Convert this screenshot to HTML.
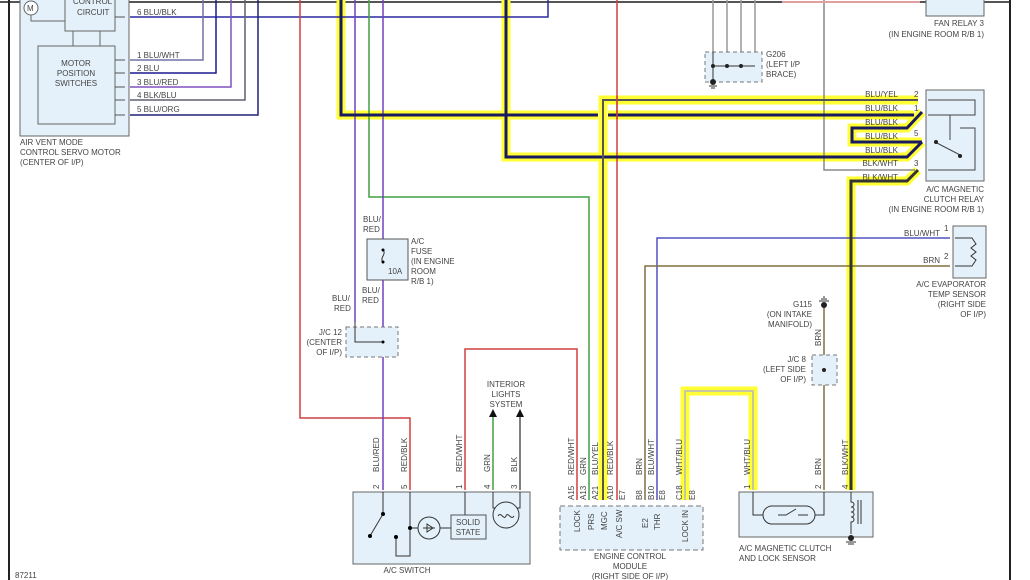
<!DOCTYPE html>
<html><head><meta charset="utf-8"><style>
html,body{margin:0;padding:0;background:#fff;}
svg{display:block;font-family:"Liberation Sans",sans-serif;}
text{font-size:8px;fill:#444;}
</style></head><body>
<svg width="1030" height="580" viewBox="0 0 1030 580" xmlns="http://www.w3.org/2000/svg">
<rect x="0" y="0" width="1030" height="580" fill="#fff"/>
<line x1="0" y1="2" x2="1010" y2="2" stroke="#555" stroke-width="2"/>
<line x1="9" y1="0" x2="9" y2="580" stroke="#222" stroke-width="2"/>
<line x1="1010" y1="0" x2="1010" y2="580" stroke="#222" stroke-width="2"/>

<g fill="none" stroke="#ffff33" stroke-width="9" stroke-linejoin="miter">
<polyline points="341,0 341,115 598,115"/>
<polyline points="608,115 914,115"/>
<polyline points="506,0 506,157 907,157 922,142"/>
<polyline points="922,112 907,128 852,128 852,142 922,142"/>
<polyline points="918,100 603,100 603,500"/>
<polyline points="918,170 907,181 851,181 851,490"/>
<polyline points="685,500 685,391 753,391 753,490"/>
</g>

<rect x="20" y="-2" width="109" height="138" fill="#e4f1fa" stroke="#666"/>
<rect x="65" y="-2" width="50" height="33" fill="#e4f1fa" stroke="#666"/>
<rect x="38" y="46" width="77" height="78" fill="#e4f1fa" stroke="#666"/>
<line x1="73" y1="31" x2="73" y2="46" stroke="#666"/><line x1="100" y1="31" x2="100" y2="46" stroke="#666"/>
<circle cx="31" cy="8" r="7" fill="#fff" stroke="#666"/><text x="27" y="11">M</text>
<polyline points="31,15 31,21 65,21" fill="none" stroke="#666"/>
<text x="73" y="4">CONTROL</text>
<text x="77" y="15">CIRCUIT</text>
<text x="76" y="66" text-anchor="middle">MOTOR</text><text x="76" y="76" text-anchor="middle">POSITION</text><text x="76" y="86" text-anchor="middle">SWITCHES</text>
<text x="20" y="145">AIR VENT MODE</text><text x="20" y="155">CONTROL SERVO MOTOR</text><text x="20" y="165">(CENTER OF I/P)</text>
<g fill="none" stroke-width="1.5">
<polyline points="130,17 548,17 548,0" stroke="#2a2aa0"/>
<polyline points="130,60 203,60 203,0" stroke="#7070a8"/>
<polyline points="130,73 216,73 216,0" stroke="#1a1a90"/>
<polyline points="130,87 231,87 231,0" stroke="#8050c0"/>
<polyline points="130,100 245,100 245,0" stroke="#606070"/>
<polyline points="130,115 258,115 258,0" stroke="#202078"/>
</g>
<g fill="none" stroke="#555"><path d="M115,17h10M115,60h10M115,73h10M115,87h10M115,100h10M115,115h10"/></g>
<text x="137" y="15">6  BLU/BLK</text>
<text x="137" y="58">1  BLU/WHT</text><text x="137" y="71">2  BLU</text><text x="137" y="85">3  BLU/RED</text><text x="137" y="98">4  BLK/BLU</text><text x="137" y="112">5  BLU/ORG</text>

<g fill="none" stroke-width="1.5">
<polyline points="300,0 300,418 410,418 410,490" stroke="#d04040"/>
<polyline points="355,0 355,322" stroke="#7040c0"/>
<polyline points="369,0 369,197 589,197 589,500" stroke="#40a040"/>
<polyline points="383,0 383,490" stroke="#7040c0"/>
<polyline points="465,490 465,349 577,349 577,500" stroke="#d04040"/>
<polyline points="617,0 617,500" stroke="#d04040"/>
<polyline points="824,0 824,170 915,170" stroke="#888"/>
<polyline points="657,500 657,238 950,238" stroke="#5050c0"/>
<polyline points="645,500 645,266 950,266" stroke="#807040"/>
<polyline points="824,305 824,490" stroke="#807040"/>
<polyline points="493,490 493,412" stroke="#40a040"/>
<polyline points="520,490 520,412" stroke="#555"/>
<line x1="782" y1="2" x2="920" y2="2" stroke="#e0a0a0" stroke-width="2"/>
</g>
<g fill="none" stroke-width="3">
<polyline points="341,0 341,115 598,115" stroke="#1a1a60"/>
<polyline points="608,115 914,115" stroke="#1a1a60"/>
<polyline points="506,0 506,157 907,157 922,142" stroke="#1a1a60"/>
<polyline points="922,112 907,128 852,128 852,142 922,142" stroke="#1a1a60"/>
<polyline points="918,100 603,100 603,500" stroke="#555" stroke-width="2"/>
<polyline points="918,170 907,181 851,181 851,490" stroke="#333"/>
<polyline points="685,500 685,391 753,391 753,490" stroke="#c8c8a0" stroke-width="2"/>
</g>
<line x1="617" y1="96" x2="617" y2="119" stroke="#d04040" stroke-width="1.5"/>

<g stroke="#999" fill="none" stroke-width="1.5"><path d="M713,0V66M727,0V66M741,0V66M755,0V66"/></g>
<rect x="705" y="52" width="57" height="30" fill="#e4f1fa" stroke="#777" stroke-dasharray="4,3"/>
<path d="M713,66H755M713,52V82" stroke="#333" fill="none"/>
<circle cx="713" cy="66" r="2" fill="#222"/><circle cx="727" cy="66" r="2" fill="#222"/><circle cx="741" cy="66" r="2" fill="#222"/>
<circle cx="713" cy="82" r="3" fill="#222"/><path d="M709,86h8M711,88h4" stroke="#333"/>
<text x="766" y="57">G206</text><text x="766" y="67">(LEFT I/P</text><text x="766" y="77">BRACE)</text>

<rect x="926" y="-2" width="58" height="18" fill="#e4f1fa" stroke="#666"/>
<text x="984" y="26" text-anchor="end">FAN RELAY 3</text><text x="984" y="37" text-anchor="end">(IN ENGINE ROOM R/B 1)</text>

<rect x="926" y="90" width="58" height="91" fill="#e4f1fa" stroke="#666"/>
<g fill="none" stroke="#444"><path d="M928,100H975V115H928M928,170H975V128H960M950,115V140"/><path d="M935,142L962,156"/></g>
<circle cx="936" cy="142" r="2" fill="#222"/><circle cx="960" cy="156" r="2" fill="#222"/>
<text x="898" y="97" text-anchor="end">BLU/YEL</text><text x="898" y="111" text-anchor="end">BLU/BLK</text><text x="898" y="125" text-anchor="end">BLU/BLK</text><text x="898" y="139" text-anchor="end">BLU/BLK</text><text x="898" y="153" text-anchor="end">BLU/BLK</text><text x="898" y="166" text-anchor="end">BLK/WHT</text><text x="898" y="180" text-anchor="end">BLK/WHT</text>
<text x="914" y="97">2</text><text x="914" y="111">1</text><text x="914" y="136">5</text><text x="914" y="166">3</text>
<text x="984" y="192" text-anchor="end">A/C MAGNETIC</text><text x="984" y="202" text-anchor="end">CLUTCH RELAY</text><text x="984" y="212" text-anchor="end">(IN ENGINE ROOM R/B 1)</text>

<text x="363" y="222">BLU/</text><text x="363" y="232">RED</text>
<rect x="367" y="239" width="41" height="41" fill="#e4f1fa" stroke="#555"/>
<path d="M383,250c4,4 -4,8 0,12" fill="none" stroke="#333"/><circle cx="383" cy="250" r="1.5"/><circle cx="383" cy="262" r="1.5"/>
<text x="388" y="274">10A</text>
<text x="411" y="244">A/C</text><text x="411" y="254">FUSE</text><text x="411" y="264">(IN ENGINE</text><text x="411" y="274">ROOM</text><text x="411" y="284">R/B 1)</text>
<text x="362" y="293">BLU/</text><text x="362" y="303">RED</text>
<text x="332" y="301">BLU/</text><text x="334" y="311">RED</text>
<rect x="346" y="327" width="52" height="30" fill="#e4f1fa" stroke="#777" stroke-dasharray="4,3"/>
<path d="M355,322V342H383" fill="none" stroke="#333"/><circle cx="383" cy="342" r="1.5"/>
<text x="342" y="335" text-anchor="end">J/C 12</text><text x="342" y="345" text-anchor="end">(CENTER</text><text x="342" y="355" text-anchor="end">OF I/P)</text>

<text x="506" y="387" text-anchor="middle">INTERIOR</text><text x="506" y="397" text-anchor="middle">LIGHTS</text><text x="506" y="407" text-anchor="middle">SYSTEM</text>
<path d="M489,417l4,-8l4,8z" fill="#111"/><path d="M516,417l4,-8l4,8z" fill="#111"/>

<text transform="translate(379,472) rotate(-90)">BLU/RED</text>
<text transform="translate(407,472) rotate(-90)">RED/BLK</text>
<text transform="translate(462,472) rotate(-90)">RED/WHT</text>
<text transform="translate(490,472) rotate(-90)">GRN</text>
<text transform="translate(517,472) rotate(-90)">BLK</text>
<text transform="translate(379,489) rotate(-90)">2</text><text transform="translate(407,489) rotate(-90)">5</text><text transform="translate(462,489) rotate(-90)">1</text><text transform="translate(490,489) rotate(-90)">4</text><text transform="translate(517,489) rotate(-90)">3</text>
<rect x="353" y="492" width="177" height="72" fill="#e4f1fa" stroke="#666"/>
<g fill="none" stroke="#333">
<path d="M383,492V514L370,536M410,492V556H396V537M410,528H458M465,492V515M493,492V508H520V492"/>
<circle cx="429" cy="528" r="11" fill="#e4f1fa"/><circle cx="506" cy="515" r="13" fill="#e4f1fa"/>
<path d="M423,528h12M427,524v8l6,-4z"/>
<path d="M498,516c3,-5 6,5 8,0c2,-5 5,5 8,0"/>
</g>
<rect x="451" y="515" width="35" height="24" fill="#e4f1fa" stroke="#555"/>
<circle cx="383" cy="514" r="2"/><circle cx="370" cy="536" r="2"/><circle cx="396" cy="537" r="2"/><circle cx="410" cy="528" r="2"/>
<text x="468" y="525" text-anchor="middle">SOLID</text><text x="468" y="535" text-anchor="middle">STATE</text>
<text x="407" y="573" text-anchor="middle">A/C SWITCH</text>

<rect x="560" y="506" width="143" height="44" fill="#e4f1fa" stroke="#777" stroke-dasharray="5,3"/>
<text transform="translate(574,475) rotate(-90)">RED/WHT</text>
<text transform="translate(586,475) rotate(-90)">GRN</text>
<text transform="translate(598,475) rotate(-90)">BLU/YEL</text>
<text transform="translate(613,475) rotate(-90)">RED/BLK</text>
<text transform="translate(642,475) rotate(-90)">BRN</text>
<text transform="translate(654,475) rotate(-90)">BLU/WHT</text>
<text transform="translate(682,475) rotate(-90)">WHT/BLU</text>
<text transform="translate(574,500) rotate(-90)">A15</text><text transform="translate(586,500) rotate(-90)">A13</text><text transform="translate(598,500) rotate(-90)">A21</text><text transform="translate(613,500) rotate(-90)">A10</text><text transform="translate(625,500) rotate(-90)">E7</text><text transform="translate(642,500) rotate(-90)">B8</text><text transform="translate(654,500) rotate(-90)">B10</text><text transform="translate(665,500) rotate(-90)">E8</text><text transform="translate(682,500) rotate(-90)">C18</text><text transform="translate(695,500) rotate(-90)">E8</text>
<text transform="translate(580,532) rotate(-90)">LOCK</text><text transform="translate(594,530) rotate(-90)">PRS</text><text transform="translate(607,530) rotate(-90)">MGC</text><text transform="translate(622,538) rotate(-90)">A/C SW</text><text transform="translate(648,528) rotate(-90)">E2</text><text transform="translate(660,530) rotate(-90)">THR</text><text transform="translate(688,542) rotate(-90)">LOCK IN</text>
<text x="630" y="559" text-anchor="middle">ENGINE CONTROL</text><text x="630" y="569" text-anchor="middle">MODULE</text><text x="630" y="579" text-anchor="middle">(RIGHT SIDE OF I/P)</text>

<rect x="953" y="226" width="33" height="52" fill="#e4f1fa" stroke="#666"/>
<path d="M955,238H972l4,6l-5,4l5,4l-5,4l5,4l-4,6H955" fill="none" stroke="#333"/>
<text x="940" y="236" text-anchor="end">BLU/WHT</text><text x="944" y="231">1</text>
<text x="940" y="263" text-anchor="end">BRN</text><text x="944" y="259">2</text>
<text x="986" y="287" text-anchor="end">A/C EVAPORATOR</text><text x="986" y="297" text-anchor="end">TEMP SENSOR</text><text x="986" y="307" text-anchor="end">(RIGHT SIDE</text><text x="986" y="317" text-anchor="end">OF I/P)</text>

<circle cx="824" cy="305" r="3" fill="#222"/><path d="M819,301h10M821,299h6M823,297h2" stroke="#333"/>
<text x="812" y="307" text-anchor="end">G115</text><text x="812" y="317" text-anchor="end">(ON INTAKE</text><text x="812" y="327" text-anchor="end">MANIFOLD)</text>
<text transform="translate(821,346) rotate(-90)">BRN</text>
<rect x="812" y="355" width="25" height="30" fill="#e4f1fa" stroke="#777" stroke-dasharray="4,3"/>
<circle cx="824" cy="370" r="2" fill="#222"/>
<text x="806" y="362" text-anchor="end">J/C 8</text><text x="806" y="372" text-anchor="end">(LEFT SIDE</text><text x="806" y="382" text-anchor="end">OF I/P)</text>

<text transform="translate(750,475) rotate(-90)">WHT/BLU</text><text transform="translate(821,475) rotate(-90)">BRN</text><text transform="translate(848,475) rotate(-90)">BLK/WHT</text>
<text transform="translate(750,489) rotate(-90)">1</text><text transform="translate(821,489) rotate(-90)">2</text><text transform="translate(848,489) rotate(-90)">4</text>
<rect x="739" y="492" width="134" height="45" fill="#e4f1fa" stroke="#666"/>
<g fill="none" stroke="#333">
<path d="M753,492V515H763M815,515H824V492"/>
<rect x="763" y="506" width="52" height="18" rx="9"/>
<path d="M778,515h8l10,-6M798,515h10"/>
<path d="M851,492v10c4,0 4,5 0,5c4,0 4,5 0,5c4,0 4,5 0,5c4,0 4,5 0,5v12M858,500v24M861,500v24"/>
</g>
<circle cx="851" cy="538" r="3" fill="#222"/>
<path d="M846,542h10M848,544h6" stroke="#333"/>
<text x="739" y="551">A/C MAGNETIC CLUTCH</text><text x="739" y="561">AND LOCK SENSOR</text>

<text x="15" y="578">87211</text>
</svg>
</body></html>
